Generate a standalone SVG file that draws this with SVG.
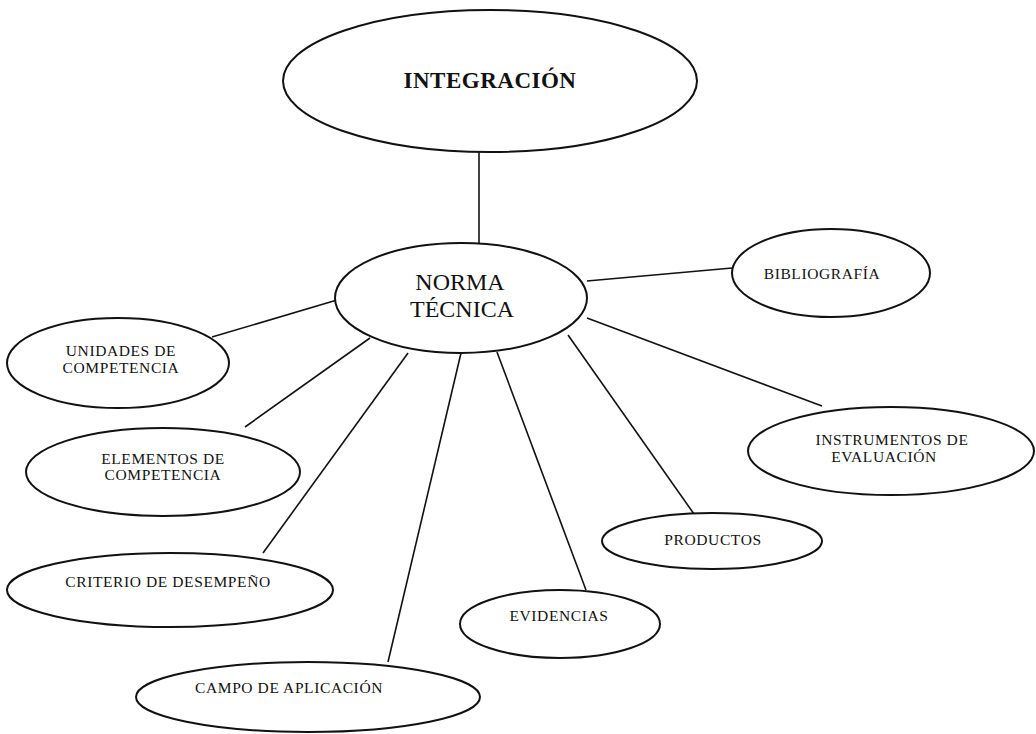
<svg xmlns="http://www.w3.org/2000/svg" width="1036" height="734" viewBox="0 0 1036 734">
  <style>
    .node ellipse { fill: #ffffff; stroke: #111111; stroke-width: 2; }
    .edges line { stroke: #111111; stroke-width: 1.6; }
    text { font-family: "Liberation Serif", "Times New Roman", serif; fill: #111111; text-anchor: middle; }
    .lbl { font-size: 15.5px; letter-spacing: 0.6px; }
    .main { font-size: 24px; }
    .title { font-size: 23px; font-weight: bold; letter-spacing: 0.5px; }
  </style>
  <rect width="1036" height="734" fill="#ffffff"/>

  <!-- connectors -->
  <g class="edges" id="edges">
    <line x1="479" y1="152" x2="479" y2="243"/>
    <line x1="587" y1="281" x2="732" y2="268"/>
    <line x1="587" y1="318" x2="822" y2="406"/>
    <line x1="568" y1="335" x2="694" y2="514"/>
    <line x1="497" y1="352" x2="586" y2="590"/>
    <line x1="461" y1="353" x2="388" y2="662"/>
    <line x1="408" y1="353" x2="263" y2="553"/>
    <line x1="370" y1="338" x2="245" y2="427"/>
    <line x1="337" y1="300" x2="212" y2="337"/>
  </g>

  <g class="node" id="integracion">
    <ellipse cx="490" cy="81" rx="207" ry="71"/>
    <text class="title" x="490" y="88">INTEGRACIÓN</text>
  </g>

  <g class="node" id="norma-tecnica">
    <ellipse cx="461" cy="298" rx="126" ry="55"/>
    <text class="main" x="460" y="290">NORMA</text>
    <text class="main" x="462" y="317">TÉCNICA</text>
  </g>

  <g class="node" id="bibliografia">
    <ellipse cx="831" cy="273" rx="99" ry="44"/>
    <text class="lbl" x="822" y="279">BIBLIOGRAFÍA</text>
  </g>

  <g class="node" id="instrumentos">
    <ellipse cx="891" cy="451" rx="143" ry="44"/>
    <text class="lbl" x="892" y="445">INSTRUMENTOS DE</text>
    <text class="lbl" x="884" y="462">EVALUACIÓN</text>
  </g>

  <g class="node" id="productos">
    <ellipse cx="712" cy="541" rx="110" ry="28"/>
    <text class="lbl" x="713" y="545">PRODUCTOS</text>
  </g>

  <g class="node" id="evidencias">
    <ellipse cx="560" cy="624" rx="100" ry="34"/>
    <text class="lbl" x="559" y="621">EVIDENCIAS</text>
  </g>

  <g class="node" id="campo">
    <ellipse cx="308" cy="697" rx="172" ry="35"/>
    <text class="lbl" x="289" y="693">CAMPO DE APLICACIÓN</text>
  </g>

  <g class="node" id="criterio">
    <ellipse cx="170" cy="590" rx="163" ry="37"/>
    <text class="lbl" x="168" y="587">CRITERIO DE DESEMPEÑO</text>
  </g>

  <g class="node" id="elementos">
    <ellipse cx="163" cy="472" rx="137" ry="44"/>
    <text class="lbl" x="163" y="464">ELEMENTOS DE</text>
    <text class="lbl" x="163" y="480">COMPETENCIA</text>
  </g>

  <g class="node" id="unidades">
    <ellipse cx="118" cy="363" rx="111" ry="45"/>
    <text class="lbl" x="121" y="356">UNIDADES DE</text>
    <text class="lbl" x="121" y="373">COMPETENCIA</text>
  </g>
</svg>
